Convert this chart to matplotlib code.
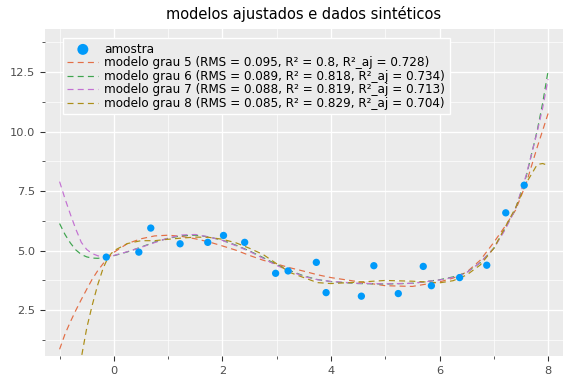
import matplotlib
matplotlib.use("Agg")
import matplotlib.pyplot as plt

# sample points
x_amostra = [-0.14, 0.46, 0.68, 1.22, 1.73, 2.02, 2.41, 2.98, 3.21, 3.73,
             3.91, 4.56, 4.79, 5.24, 5.70, 5.85, 6.37, 6.87, 7.22, 7.56]
y_amostra = [4.73, 4.94, 5.95, 5.29, 5.35, 5.64, 5.35, 4.05, 4.15, 4.51,
             3.24, 3.09, 4.37, 3.20, 4.34, 3.53, 3.87, 4.39, 6.59, 7.75]

# fitted curves, values read along a common x grid
x_modelo = [-1.0, -0.9, -0.8, -0.7, -0.6, -0.5, -0.4, -0.3, -0.2, -0.1,
            0.0, 0.25, 0.5, 0.75, 1.0, 1.25, 1.5, 1.75, 2.0, 2.25,
            2.5, 2.75, 3.0, 3.25, 3.5, 3.75, 4.0, 4.5, 5.0, 5.5,
            6.0, 6.25, 6.5, 6.75, 7.0, 7.2, 7.4, 7.6, 7.8, 7.9, 8.0]
y_grau5 = [0.86, 1.5, 2.02, 2.5, 2.95, 3.38, 3.8, 4.15, 4.45, 4.7,
           4.93, 5.3, 5.5, 5.62, 5.65, 5.6, 5.5, 5.37, 5.2, 5.02,
           4.8, 4.6, 4.44, 4.28, 4.14, 3.99, 3.87, 3.7, 3.53, 3.5,
           3.69, 3.85, 4.1, 4.6, 5.35, 6.0, 6.7, 7.85, 9.35, 10.05, 10.76]
y_grau6 = [6.14, 5.68, 5.32, 5.03, 4.84, 4.74, 4.69, 4.68, 4.7, 4.74,
           4.79, 4.95, 5.15, 5.36, 5.52, 5.63, 5.65, 5.58, 5.44, 5.23,
           4.99, 4.71, 4.42, 4.16, 3.94, 3.79, 3.7, 3.62, 3.6, 3.63,
           3.78, 3.9, 4.08, 4.5, 5.1, 5.9, 6.75, 8.15, 10.05, 11.2, 12.55]
y_grau7 = [7.9, 7.18, 6.52, 5.9, 5.35, 5.05, 4.88, 4.79, 4.73, 4.74,
           4.8, 4.96, 5.14, 5.34, 5.53, 5.66, 5.68, 5.58, 5.43, 5.21,
           4.97, 4.68, 4.38, 4.14, 3.92, 3.78, 3.71, 3.63, 3.61, 3.63,
           3.77, 3.88, 4.08, 4.5, 5.1, 5.85, 6.75, 8.2, 10.0, 11.0, 12.2]
y_grau8 = [-9.0, -5.0, -2.5, -0.8, 0.5, 1.75, 2.7, 3.55, 4.25, 4.75,
           5.0, 5.3, 5.42, 5.42, 5.48, 5.53, 5.57, 5.56, 5.48, 5.33,
           5.1, 4.84, 4.45, 4.08, 3.87, 3.66, 3.62, 3.68, 3.75, 3.72,
           3.65, 3.74, 3.98, 4.4, 5.1, 5.95, 6.8, 7.85, 8.62, 8.66, 8.58]

rotulos = [
    "modelo grau 5 (RMS = 0.095, R² = 0.8, R²_aj = 0.728)",
    "modelo grau 6 (RMS = 0.089, R² = 0.818, R²_aj = 0.734)",
    "modelo grau 7 (RMS = 0.088, R² = 0.819, R²_aj = 0.713)",
    "modelo grau 8 (RMS = 0.085, R² = 0.829, R²_aj = 0.704)",
]
cores = ["#E36F47", "#3EA44E", "#C371D2", "#AC8E18"]

fig = plt.figure(figsize=(6, 4), dpi=96)
ax = fig.add_axes([0.078, 0.073, 0.899, 0.851])
ax.set_facecolor("#EBEBEB")
for s in ax.spines.values():
    s.set_visible(False)

ax.scatter(x_amostra, y_amostra, s=30, color="#009AFA", edgecolors="none",
           label="amostra", zorder=3)
for y, cor, rot in zip([y_grau5, y_grau6, y_grau7, y_grau8], cores, rotulos):
    ax.plot(x_modelo, y, color=cor, lw=0.9, linestyle=(0, (5, 3.5)), label=rot, zorder=2)

ax.set_xlim(-1.27, 8.27)
ax.set_ylim(0.58, 14.3)
ax.set_xticks([0, 2, 4, 6, 8])
ax.set_xticks([-1, 1, 3, 5, 7], minor=True)
ax.set_yticks([2.5, 5.0, 7.5, 10.0, 12.5])
ax.set_yticks([1.25, 3.75, 6.25, 8.75, 11.25, 13.75], minor=True)
ax.set_yticklabels(["2.5", "5.0", "7.5", "10.0", "12.5"])
ax.grid(True, which="major", color="white", lw=1.0)
ax.grid(True, which="minor", color="white", lw=0.5)
ax.set_axisbelow(True)
ax.tick_params(which="major", length=4, width=0.8, color="#333333",
               labelsize=8.5, labelcolor="#4D4D4D")
ax.tick_params(which="minor", length=2, width=0.6, color="#333333")

ax.set_title("modelos ajustados e dados sintéticos", fontsize=11, pad=8)

leg = ax.legend(loc="upper left", bbox_to_anchor=(0.035, 0.972), borderaxespad=0,
                fontsize=9, frameon=True, fancybox=False, handlelength=2.6,
                handletextpad=0.5, labelspacing=0.05, borderpad=0.35,
                markerscale=1.5)
leg.get_frame().set_facecolor("#EBEBEB")
leg.get_frame().set_edgecolor("white")
leg.get_frame().set_linewidth(1.0)
leg.get_frame().set_alpha(1)

fig.savefig("out.png", dpi=96)
